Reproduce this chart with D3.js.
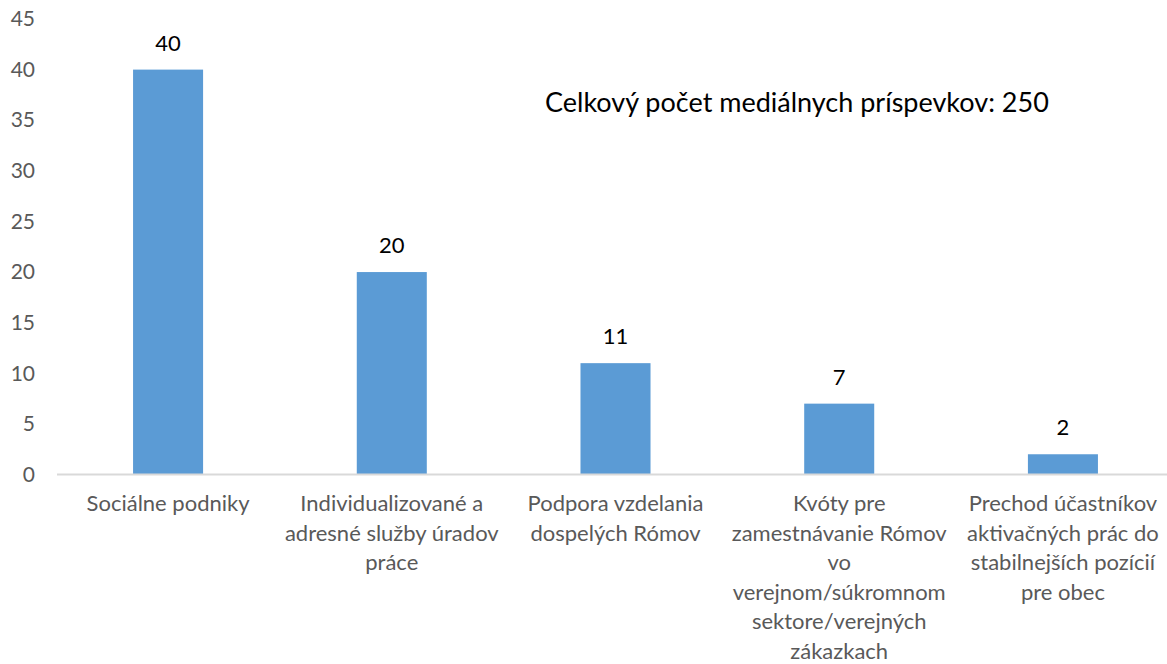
<!DOCTYPE html>
<html>
<head>
<meta charset="utf-8">
<script src="https://cdn.jsdelivr.net/npm/d3@7"></script>
<style>
  body { margin: 0; background: #fff; }
  svg { display: block; font-family: Lato, "Open Sans", sans-serif; }
</style>
</head>
<body>
<svg id="chart" width="1167" height="664"></svg>
<script>
// chart data
const categories = [
  "Sociálne podniky",
  "Individualizované a\nadresné služby úradov\npráce",
  "Podpora vzdelania\ndospelých Rómov",
  "Kvóty pre\nzamestnávanie Rómov\nvo\nverejnom/súkromnom\nsektore/verejných\nzákazkach",
  "Prechod účastníkov\naktivačných prác do\nstabilnejších pozícií\npre obec"
]
const values = [40, 20, 11, 7, 2]
const yTicks = [0, 5, 10, 15, 20, 25, 30, 35, 40, 45]
const note = "Celkový počet mediálnych príspevkov: 250"

const width = 1167
const height = 664
const margin = { left: 57, top: 19, bottom: 190 }

const svg = d3.select("#chart")

const x = d3.scaleBand()
  .domain(categories)
  .range([margin.left, 1174])
  .paddingInner(0.687)
  .paddingOuter(0.34)

const y = d3.scaleLinear()
  .domain([0, 45])
  .range([474.5, margin.top])

// y axis tick labels (no axis line)
const yAxis = d3.axisLeft(y).tickValues(yTicks).tickSize(0).tickPadding(0)
const yAxisGroup = svg.append("g")
  .attr("transform", "translate(35,0)")
  .call(yAxis)
yAxisGroup.select(".domain").remove()
yAxisGroup.selectAll("text")
  .attr("fill", "#595959")
  .style("font-size", "21px")
  .style("font-family", "Lato, sans-serif")

// bars
svg.append("g").selectAll("rect")
  .data(values)
  .join("rect")
  .attr("x", (d, i) => x(categories[i]))
  .attr("y", d => y(d))
  .attr("width", x.bandwidth())
  .attr("height", d => y(0) - y(d))
  .attr("fill", "#5B9BD5")

// baseline
svg.append("line")
  .attr("x1", margin.left)
  .attr("x2", width)
  .attr("y1", y(0))
  .attr("y2", y(0))
  .attr("stroke", "#D9D9D9")
  .attr("stroke-width", 2)

// value labels
svg.append("g").selectAll("text")
  .data(values)
  .join("text")
  .attr("x", (d, i) => x(categories[i]) + x.bandwidth() / 2)
  .attr("y", d => y(d) - 19)
  .attr("text-anchor", "middle")
  .attr("fill", "#000")
  .style("font-size", "22px")
  .text(d => d)

// category labels, one tspan per line
const labels = svg.append("g").selectAll("text")
  .data(categories)
  .join("text")
  .attr("x", d => x(d) + x.bandwidth() / 2)
  .attr("y", 511)
  .attr("text-anchor", "middle")
  .attr("fill", "#595959")
  .style("font-size", "22px")

labels.selectAll("tspan")
  .data(d => d.split("\n").map(line => ({ line, cx: x(d) + x.bandwidth() / 2 })))
  .join("tspan")
  .attr("x", d => d.cx)
  .attr("dy", (d, i) => i === 0 ? 0 : 29.6)
  .text(d => d.line)

// note
svg.append("text")
  .attr("x", 545)
  .attr("y", 112)
  .attr("fill", "#000")
  .style("font-size", "27px")
  .text(note)
</script>
</body>
</html>
